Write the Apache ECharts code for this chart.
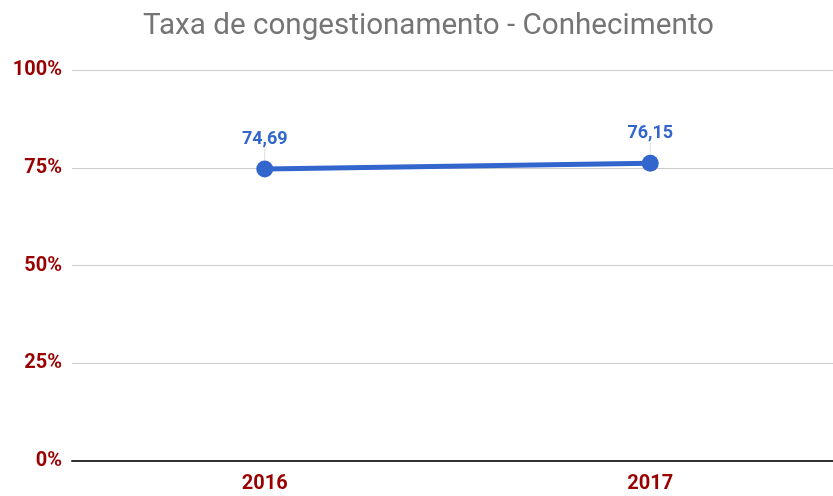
<!DOCTYPE html>
<html>
<head>
<meta charset="utf-8">
<script src="https://cdn.jsdelivr.net/npm/echarts@6/dist/echarts.min.js"></script>
<style>
    html, body { margin: 0; padding: 0; background: #fff; }
    #myChart { width: 833px; height: 496px; }
</style>
</head>
<body>
<div id="myChart"></div>
<script>
var categories = ['2016', '2017']
var taxa = [74.69, 76.15]
var yTicks = [0, 25, 50, 75, 100]

var myChart = echarts.init(document.getElementById('myChart'))
var option = {
    title: {
        text: 'Taxa de congestionamento - Conhecimento',
        left: 138,
        top: 7,
        textStyle: { fontFamily: 'Roboto', fontSize: 29.6, fontWeight: 'normal', color: '#757575' }
    },
    grid: { left: 72, width: 771, top: 70, bottom: 35, containLabel: false, outerBoundsMode: 'none' },
    xAxis: {
        type: 'category',
        data: categories,
        boundaryGap: true,
        axisTick: { show: false },
        axisLine: { lineStyle: { color: '#333', width: 2 } },
        axisLabel: { color: '#990000', fontFamily: 'Roboto', fontWeight: 'bold', fontSize: 20, margin: 13 }
    },
    yAxis: {
        type: 'value',
        min: yTicks[0],
        max: yTicks[yTicks.length - 1],
        interval: 25,
        axisLabel: {
            color: '#990000', fontFamily: 'Roboto', fontWeight: 'bold', fontSize: 20, margin: 10,
            formatter: function (v) { return v + '%' }
        },
        splitLine: { lineStyle: { color: '#cccccc', width: 1 } },
        axisLine: { show: false },
        axisTick: { show: false }
    },
    series: [{
        type: 'line',
        data: taxa,
        symbol: 'circle',
        symbolSize: 17,
        color: '#3366cc',
        lineStyle: { width: 5, color: '#3366cc' },
        label: {
            show: true,
            position: 'top',
            distance: 4,
            color: '#3366cc',
            fontFamily: 'Roboto',
            fontWeight: 'bold',
            fontSize: 18,
            formatter: function (p) { return p.value.toFixed(2).replace('.', ',') }
        },
        labelLayout: { dy: -8 },
        labelLine: { show: true, lineStyle: { color: '#dddddd', width: 1 } }
    }]
}
myChart.setOption(option)
</script>
</body>
</html>
